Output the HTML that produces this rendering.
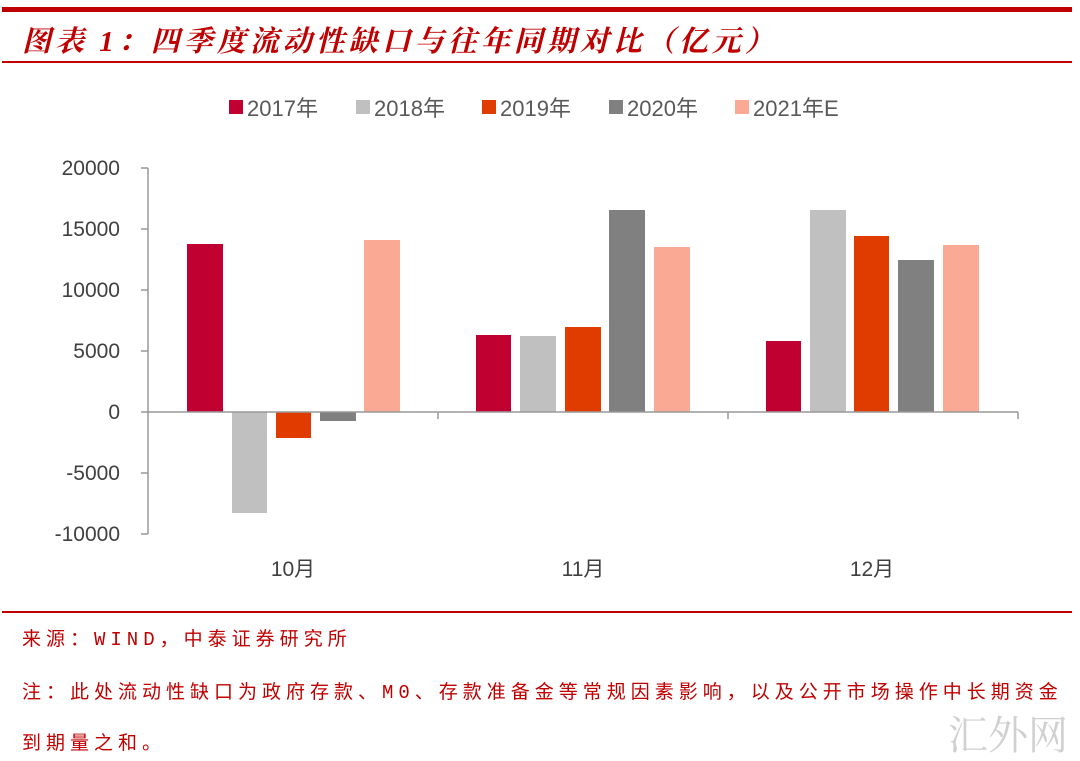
<!DOCTYPE html>
<html><head><meta charset="utf-8"><style>
body{margin:0;background:#fff;width:1080px;height:756px;overflow:hidden;position:relative;font-family:"Liberation Sans","Noto Sans CJK SC",sans-serif}
.t{position:absolute;white-space:nowrap}
.n{font-size:19px;letter-spacing:5px;color:#c00000;font-family:'Liberation Mono','Noto Sans CJK SC',monospace}
</style></head><body>
<div style="position:absolute;left:2px;top:7px;width:1070px;height:5px;background:#c00000"></div>
<div class="t" style="left:22px;top:19px;font-size:29px;letter-spacing:4px;font-weight:bold;font-style:italic;color:#c00000;font-family:'Liberation Serif','Noto Serif CJK SC',serif">图表 1：四季度流动性缺口与往年同期对比（亿元）</div>
<div style="position:absolute;left:2px;top:61px;width:1070px;height:2px;background:#c00000"></div>
<svg width="1080" height="600" style="position:absolute;left:0;top:0" font-family="Liberation Sans, Noto Sans CJK SC, sans-serif">
<g font-size="22" fill="#595959">
<rect x="229" y="100" width="14" height="14" fill="#c00030"/><text x="247" y="116">2017年</text>
<rect x="356" y="100" width="14" height="14" fill="#c0c0c0"/><text x="374" y="116">2018年</text>
<rect x="482" y="100" width="14" height="14" fill="#e03c00"/><text x="500" y="116">2019年</text>
<rect x="609" y="100" width="14" height="14" fill="#808080"/><text x="627" y="116">2020年</text>
<rect x="735" y="100" width="14" height="14" fill="#f9a994"/><text x="753" y="116">2021年E</text>
</g>
<g font-size="21" fill="#404040" text-anchor="end">
<text x="120" y="175">20000</text><text x="120" y="236">15000</text><text x="120" y="297">10000</text>
<text x="120" y="358">5000</text><text x="120" y="419">0</text><text x="120" y="480">-5000</text><text x="120" y="541">-10000</text>
</g>
<g stroke="#999" stroke-width="1.5">
<line x1="148" y1="168" x2="148" y2="534"/>
<line x1="141" y1="168" x2="148" y2="168"/><line x1="141" y1="229" x2="148" y2="229"/><line x1="141" y1="290" x2="148" y2="290"/><line x1="141" y1="351" x2="148" y2="351"/><line x1="141" y1="412" x2="148" y2="412"/><line x1="141" y1="473" x2="148" y2="473"/><line x1="141" y1="534" x2="148" y2="534"/>
</g>
<rect x="187" y="244" width="36" height="168" fill="#c00030"/>
<rect x="232" y="412" width="35" height="101" fill="#c0c0c0"/>
<rect x="276" y="412" width="35" height="26" fill="#e03c00"/>
<rect x="320" y="412" width="36" height="9" fill="#808080"/>
<rect x="364" y="240" width="36" height="172" fill="#f9a994"/>
<rect x="476" y="335" width="35" height="77" fill="#c00030"/>
<rect x="520" y="336" width="36" height="76" fill="#c0c0c0"/>
<rect x="565" y="327" width="36" height="85" fill="#e03c00"/>
<rect x="609" y="210" width="36" height="202" fill="#808080"/>
<rect x="654" y="247" width="36" height="165" fill="#f9a994"/>
<rect x="766" y="341" width="35" height="71" fill="#c00030"/>
<rect x="810" y="210" width="36" height="202" fill="#c0c0c0"/>
<rect x="854" y="236" width="35" height="176" fill="#e03c00"/>
<rect x="898" y="260" width="36" height="152" fill="#808080"/>
<rect x="943" y="245" width="36" height="167" fill="#f9a994"/>
<g stroke="#999" stroke-width="1.5">
<line x1="148" y1="412" x2="1018" y2="412"/>
<line x1="438" y1="412" x2="438" y2="419"/><line x1="728" y1="412" x2="728" y2="419"/><line x1="1018" y1="412" x2="1018" y2="419"/>
</g>
<g font-size="21" fill="#404040" text-anchor="middle">
<text x="293" y="576">10月</text><text x="583" y="576">11月</text><text x="872" y="576">12月</text>
</g>
</svg>
<div style="position:absolute;left:2px;top:611px;width:1070px;height:2px;background:#c00000"></div>
<div class="t n" style="left:22px;top:624px">来源：WIND，中泰证券研究所</div>
<div class="t n" style="left:22px;top:677px">注：此处流动性缺口为政府存款、M0、存款准备金等常规因素影响，以及公开市场操作中长期资金</div>
<div class="t n" style="left:22px;top:728px">到期量之和。</div>
<div class="t" style="left:948px;top:704px;font-size:40px;color:#d0d0d0;font-family:'Noto Serif CJK SC',serif">汇外网</div>
</body></html>
